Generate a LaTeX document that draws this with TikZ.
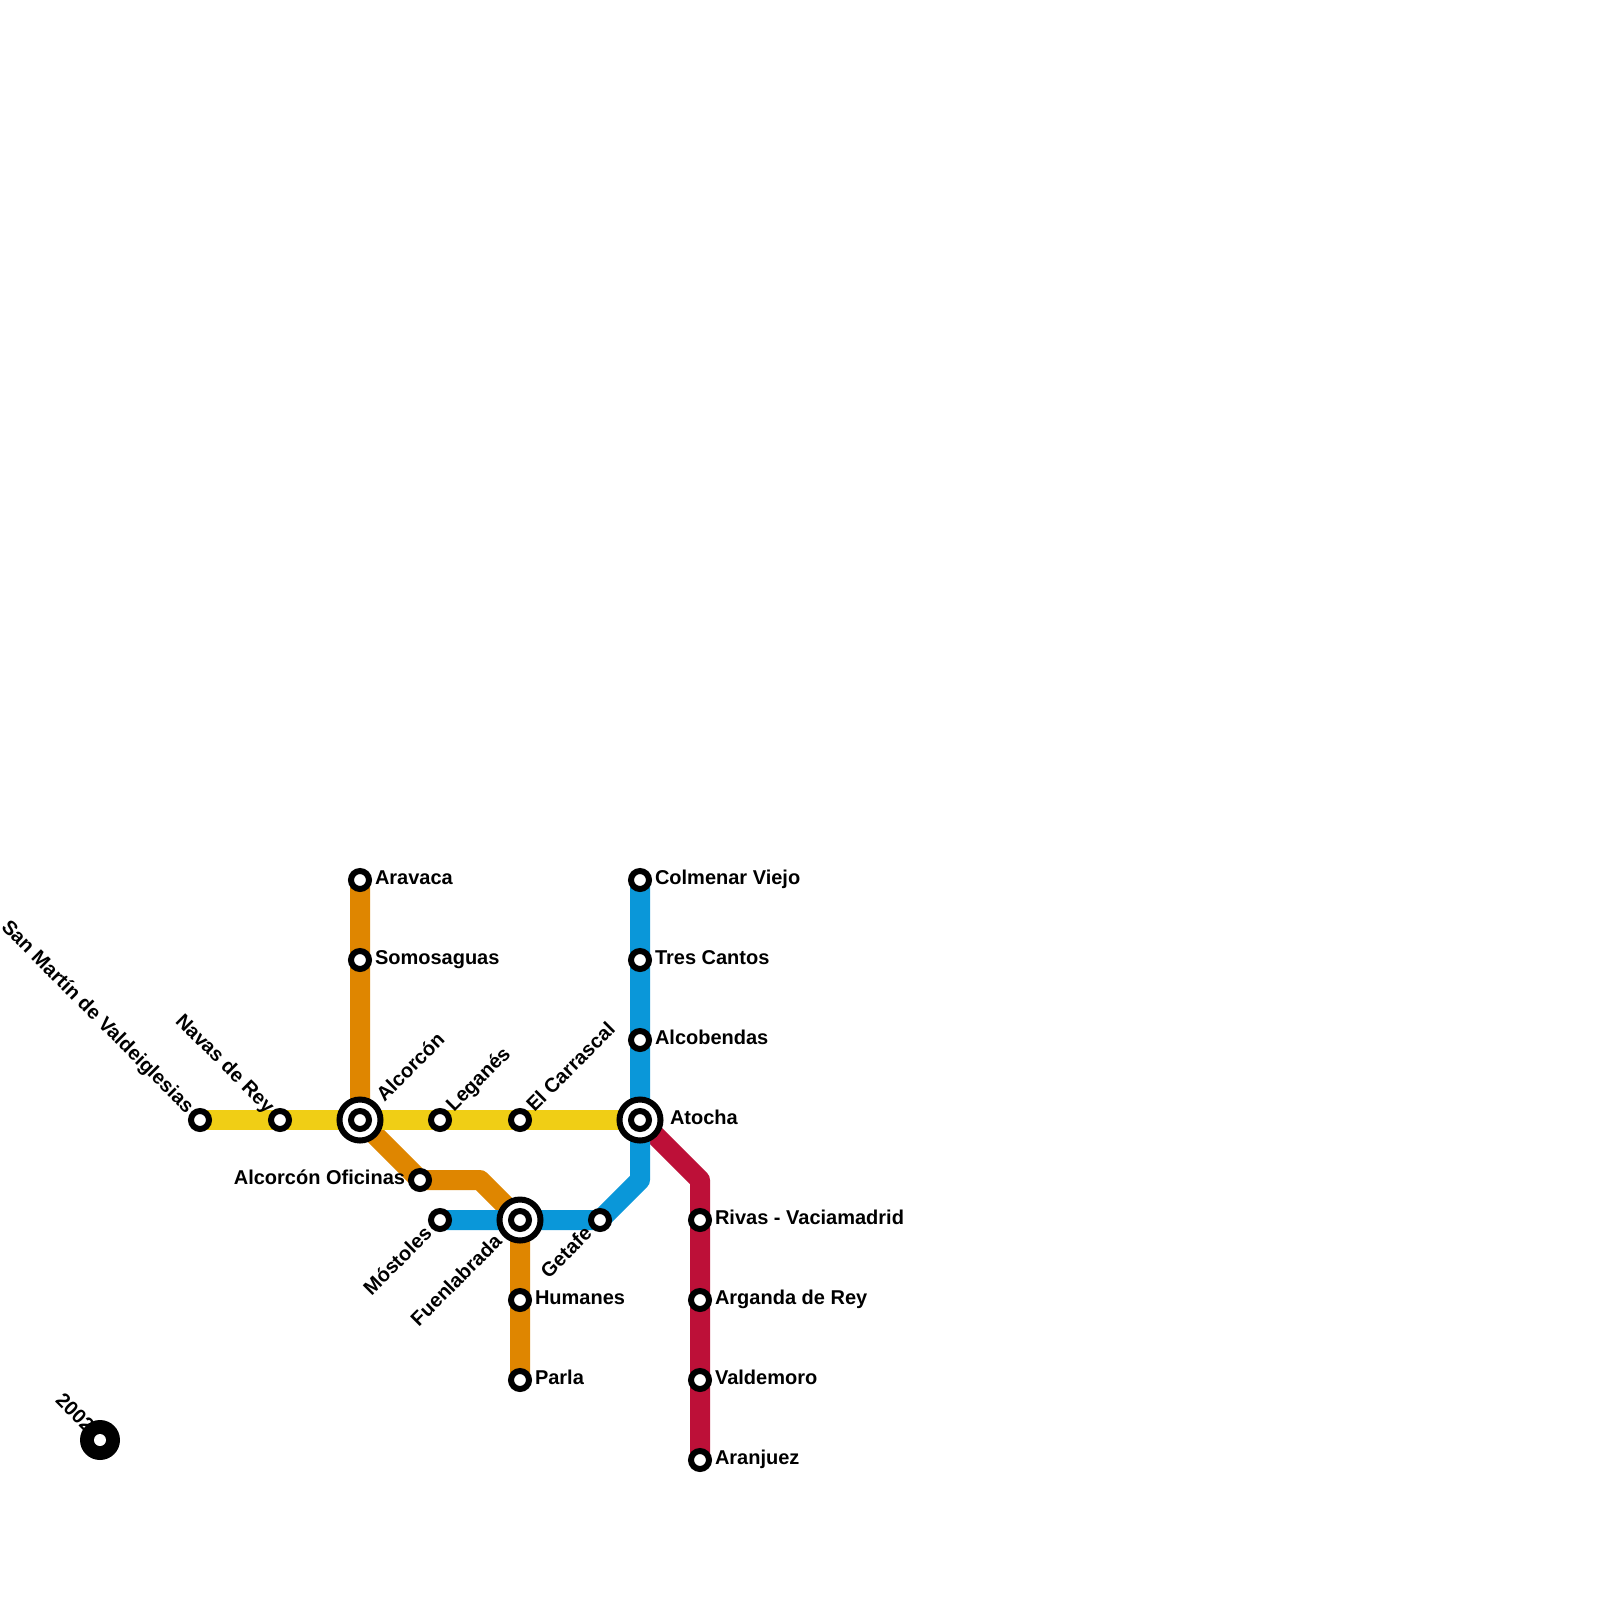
\documentclass[tikz,border=0pt]{standalone}
\usepackage{fontspec}
\setmainfont{Liberation Sans}
\definecolor{cyellow}{HTML}{F0CE15}
\definecolor{corange}{HTML}{DF8600}
\definecolor{cblue}{HTML}{0A97D9}
\definecolor{cred}{HTML}{BD1038}
\tikzset{
  metro/.style={line width=20pt,line join=round},
  stn/.style={circle,draw=black,fill=white,line width=6pt,minimum size=18pt,inner sep=0pt},
  hubring/.style={circle,draw=black,fill=white,line width=6pt,minimum size=41pt,inner sep=0pt},
  lbl/.style={font=\fontsize{20}{22}\selectfont\bfseries,inner sep=0pt,outer sep=0pt,text=black},
  lblr/.style={lbl,anchor=base west},
  lbll/.style={lbl,anchor=base east},
  lblup/.style={lbl,anchor=base west,rotate=45},
  lbldn/.style={lbl,anchor=base east,rotate=45},
  lblback/.style={lbl,anchor=base east,rotate=-45},
}
\begin{document}
\begin{tikzpicture}[x=1pt,y=-1pt]
\useasboundingbox (0,0) rectangle (1600,1600);
\fill[white] (0,0) rectangle (1600,1600);
% positions
\coordinate (aravaca) at (360,880);
\coordinate (somosaguas) at (360,960);
\coordinate (alcorcon) at (360,1120);
\coordinate (sanmartin) at (200,1120);
\coordinate (navas) at (280,1120);
\coordinate (leganes) at (440,1120);
\coordinate (carrascal) at (520,1120);
\coordinate (atocha) at (640,1120);
\coordinate (colmenar) at (640,880);
\coordinate (tres) at (640,960);
\coordinate (alcobendas) at (640,1040);
\coordinate (oficinas) at (420,1180);
\coordinate (bendA) at (480,1180);
\coordinate (fuenlabrada) at (520,1220);
\coordinate (mostoles) at (440,1220);
\coordinate (getafe) at (600,1220);
\coordinate (bendB) at (640,1180);
\coordinate (humanes) at (520,1300);
\coordinate (parla) at (520,1380);
\coordinate (bendC) at (700,1180);
\coordinate (rivas) at (700,1220);
\coordinate (arganda) at (700,1300);
\coordinate (valdemoro) at (700,1380);
\coordinate (aranjuez) at (700,1460);
\coordinate (year) at (100,1440);
% lines
\draw[metro,cred] (atocha) -- (bendC) -- (aranjuez);
\draw[metro,corange] (aravaca) -- (alcorcon) -- (oficinas) -- (bendA) -- (fuenlabrada) -- (parla);
\draw[metro,cblue] (colmenar) -- (bendB) -- (getafe) -- (mostoles);
\draw[metro,cyellow] (sanmartin) -- (atocha);
% labels
\node[lblr] (tAravaca) at (375,884.5) {Aravaca};
\node[lblr] (tSomosaguas) at (375,964.5) {Somosaguas};
\node[lblr] (tColmenar) at (655,884.5) {Colmenar Viejo};
\node[lblr] (tTres) at (655,964.5) {Tres Cantos};
\node[lblr] (tAlcobendas) at (655,1044.5) {Alcobendas};
\node[lblr] (tAtocha) at (670,1124.5) {Atocha};
\node[lblr] (tRivas) at (715,1224.5) {Rivas - Vaciamadrid};
\node[lblr] (tArganda) at (715,1304.5) {Arganda de Rey};
\node[lblr] (tValdemoro) at (715,1384.5) {Valdemoro};
\node[lblr] (tAranjuez) at (715,1464.5) {Aranjuez};
\node[lblr] (tHumanes) at (535,1304.5) {Humanes};
\node[lblr] (tParla) at (535,1384.5) {Parla};
\node[lbll] (tOficinas) at (405,1184.5) {Alcorcón Oficinas};
\node[lblup] (tAlcorcon) at (384.5,1102.5) {Alcorcón};
\node[lblup] (tLeganes) at (454,1112.5) {Leganés};
\node[lblup] (tCarrascal) at (534.5,1112.5) {El Carrascal};
\node[lbldn] (tMostoles) at (433,1235) {Móstoles};
\node[lbldn] (tFuenlabrada) at (503,1243) {Fuenlabrada};
\node[lbldn] (tGetafe) at (593,1235) {Getafe};
\node[lblback] (tSanmartin) at (186,1114) {San Martín de Valdeiglesias};
\node[lblback] (tNavas) at (266.5,1114) {Navas de Rey};
\node[lblback] (tYear) at (86,1433) {2002};
% stations
\foreach \p in {aravaca,somosaguas,sanmartin,navas,leganes,carrascal,colmenar,tres,alcobendas,oficinas,mostoles,getafe,humanes,parla,rivas,arganda,valdemoro,aranjuez}
  \node[stn] (s\p) at (\p) {};
\foreach \p in {alcorcon,fuenlabrada,atocha}{
  \node[hubring] (h\p) at (\p) {};
  \node[stn] (s\p) at (\p) {};
}
\fill[black] (year) circle (20pt);
\node[circle,fill=white,minimum size=12pt,inner sep=0pt] (syear) at (year) {};
\end{tikzpicture}
\end{document}
